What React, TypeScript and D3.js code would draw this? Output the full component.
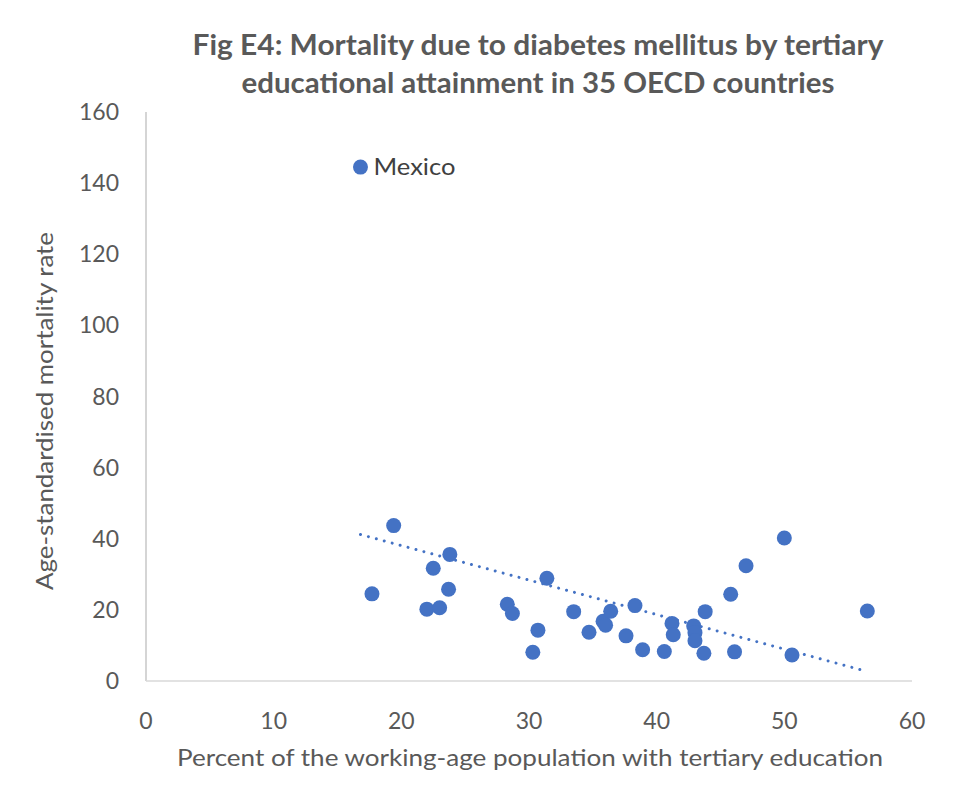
import React from "react";
import * as d3 from "d3";

const countries = ["Mexico"];
const xValues = [16.8, 19.4, 17.7, 23.8, 22.5, 23.7, 22.0, 23.0, 28.3, 28.7, 31.4, 30.7, 30.3, 33.5, 34.7, 35.8,
  36.0, 36.4, 37.6, 38.3, 38.9, 40.6, 41.2, 41.3, 42.9, 43.0, 43.0, 43.7, 43.8, 45.8, 46.1, 47.0, 50.0, 50.6, 56.5];
const yValues = [144.5, 43.7, 24.5, 35.6, 31.7, 25.8, 20.2, 20.6, 21.6, 19.0, 28.9, 14.3, 8.1, 19.5, 13.7, 16.8,
  15.7, 19.6, 12.7, 21.2, 8.8, 8.3, 16.2, 13.0, 15.5, 13.6, 11.3, 7.8, 19.5, 24.4, 8.2, 32.4, 40.2, 7.3, 19.7];
const xTicks = [0, 10, 20, 30, 40, 50, 60];
const yTicks = [0, 20, 40, 60, 80, 100, 120, 140, 160];
const titleLines = [
  "Fig E4: Mortality due to diabetes mellitus by tertiary",
  "educational attainment in 35 OECD countries",
];
const xTitle = "Percent of the working-age population with tertiary education";
const yTitle = "Age-standardised mortality rate";

export default function App() {
  const W = 961, H = 807;
  const x = d3.scaleLinear().domain([0, 60]).range([146, 912]);
  const y = d3.scaleLinear().domain([0, 160]).range([681, 112]);
  const pts = xValues.map((v, i) => ({ x: v, y: yValues[i] }));
  const mx = d3.mean(xValues)!, my = d3.mean(yValues)!;
  const sxy = d3.sum(pts, p => (p.x - mx) * (p.y - my));
  const sxx = d3.sum(pts, p => (p.x - mx) ** 2);
  const slope = sxy / sxx, icpt = my - slope * mx;
  const [x0, x1] = d3.extent(xValues) as [number, number];
  const line = d3.line<number>().x(v => x(v)).y(v => y(icpt + slope * v));
  const font = "Lato, 'Open Sans', sans-serif";
  const grey = "#595959";
  const titleW = [691, 593];
  return (
    <svg width={W} height={H} style={{ position: "absolute", left: 0, top: 0, background: "#fff" }} fontFamily={font}>
      <rect width={W} height={H} fill="#fff" />
      {titleLines.map((t, i) => (
        <text key={i} x={538} y={55 + i * 38} textAnchor="middle" fontSize={28} fontWeight="bold" fill={grey}
          textLength={titleW[i]} lengthAdjust="spacingAndGlyphs">{t}</text>
      ))}
      <line x1={x(0)} x2={x(0)} y1={y(160)} y2={y(0)} stroke="#BFBFBF" strokeWidth={1.3} />
      <line x1={x(0)} x2={x(60)} y1={y(0)} y2={y(0)} stroke="#D9D9D9" strokeWidth={1.3} />
      {yTicks.map(t => (
        <text key={t} x={119} y={y(t) + 8} textAnchor="end" fontSize={23} fill={grey}>{t}</text>
      ))}
      {xTicks.map(t => (
        <text key={t} x={x(t)} y={729} textAnchor="middle" fontSize={23} fill={grey}>{t}</text>
      ))}
      <text x={530} y={766} textAnchor="middle" fontSize={23} fill={grey}
        textLength={706} lengthAdjust="spacingAndGlyphs">{xTitle}</text>
      <text transform={`translate(53,411) rotate(-90)`} textAnchor="middle" fontSize={23} fill={grey}
        textLength={358} lengthAdjust="spacingAndGlyphs">{yTitle}</text>
      <path d={line([x0, x1]) || ""} fill="none" stroke="#4472C4" strokeWidth={3} strokeLinecap="round" strokeDasharray="0.01 8.2" />
      {pts.map((p, i) => (
        <circle key={i} cx={x(p.x)} cy={y(p.y)} r={7.5} fill="#4472C4" />
      ))}
      <text x={x(xValues[0]) + 13} y={y(yValues[0]) + 8} fontSize={24} fill="#404040"
        textLength={82} lengthAdjust="spacingAndGlyphs">{countries[0]}</text>
    </svg>
  );
}
